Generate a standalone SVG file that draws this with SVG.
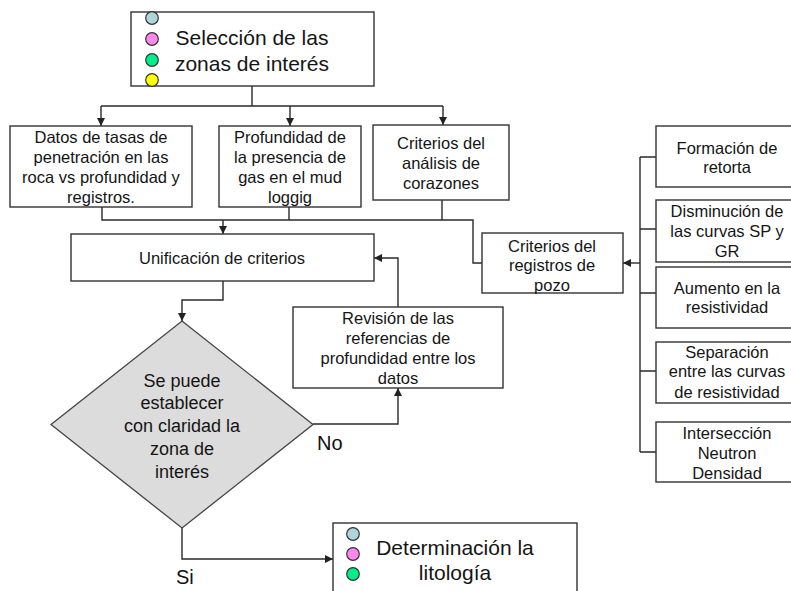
<svg xmlns="http://www.w3.org/2000/svg" width="791" height="591" viewBox="0 0 791 591">
<defs>
<marker id="arr" markerUnits="userSpaceOnUse" markerWidth="8" markerHeight="8" refX="8" refY="4" orient="auto">
<path d="M0,0 L8,4 L0,8 z" fill="#222"/>
</marker>
<style>
.box{fill:#fff;stroke:#333;stroke-width:1.4}
.dia{fill:#dcdcdc;stroke:#444;stroke-width:1.3}
.t{font-family:"Liberation Sans",Arial,sans-serif;font-size:16.5px;fill:#151515;text-anchor:middle}
.big{font-size:21px}
.mid{font-size:18px}
.lbl{font-family:"Liberation Sans",Arial,sans-serif;font-size:20px;fill:#111}
.c{fill:none;stroke:#2a2a2a;stroke-width:1.4}
.dot{stroke:#333;stroke-width:1.2}
</style>
</defs>
<rect width="791" height="591" fill="#fff"/>
<g id="connectors">
<path class="c" d="M252,86 V106"/>
<path class="c" d="M101,106 H443"/>
<path class="c" d="M101,106 V126" marker-end="url(#arr)"/>
<path class="c" d="M290,106 V126" marker-end="url(#arr)"/>
<path class="c" d="M443,106 V125" marker-end="url(#arr)"/>
<path class="c" d="M102,207 V220 H473 V263 H482"/>
<path class="c" d="M289,207 V220"/>
<path class="c" d="M442,200 V220"/>
<path class="c" d="M223,220 V234" marker-end="url(#arr)"/>
<path class="c" d="M398,307 V258 H374" marker-end="url(#arr)"/>
<path class="c" d="M223,281 V300 H182 V321" marker-end="url(#arr)"/>
<path class="c" d="M313,424 H398 V388" marker-end="url(#arr)"/>
<path class="c" d="M182,528 V559 H333" marker-end="url(#arr)"/>
<path class="c" d="M640,157 V452 M640,157 H656 M640,229 H656 M640,293 H656 M640,371 H656 M640,452 H656"/>
<path class="c" d="M640,263 H623" marker-end="url(#arr)"/>
</g>
<g id="n-seleccion">
<rect class="box" x="131" y="12" width="243" height="74"/>
<circle class="dot" cx="152" cy="18" r="6.3" fill="#add6da"/>
<circle class="dot" cx="152" cy="39" r="6.3" fill="#ff88ee"/>
<circle class="dot" cx="152" cy="60" r="6.3" fill="#00ee88"/>
<circle class="dot" cx="152" cy="80" r="6.3" fill="#ffff00"/>
<text class="t big" x="252" y="44.5">Selección de las</text>
<text class="t big" x="252" y="70.5">zonas de interés</text>
</g>
<g id="n-datos">
<rect class="box" x="10" y="126" width="182" height="81"/>
<text class="t" x="101" y="142.5">Datos de tasas de</text>
<text class="t" x="101" y="162.5">penetración en las</text>
<text class="t" x="101" y="182.5">roca vs profundidad y</text>
<text class="t" x="101" y="202.5">registros.</text>
</g>
<g id="n-profundidad">
<rect class="box" x="219" y="126" width="142" height="81"/>
<text class="t" x="290" y="142.5">Profundidad de</text>
<text class="t" x="290" y="162.5">la presencia de</text>
<text class="t" x="290" y="182.5">gas en el mud</text>
<text class="t" x="290" y="202.5">loggig</text>
</g>
<g id="n-corazones">
<rect class="box" x="373" y="125" width="136" height="75"/>
<text class="t" x="441" y="149">Criterios del</text>
<text class="t" x="441" y="169">análisis de</text>
<text class="t" x="441" y="189">corazones</text>
</g>
<g id="n-unificacion">
<rect class="box" x="71" y="234" width="303" height="47"/>
<text class="t" x="222" y="264">Unificación de criterios</text>
</g>
<g id="n-registros">
<rect class="box" x="482" y="233" width="141" height="60"/>
<text class="t" x="552" y="252">Criterios del</text>
<text class="t" x="552" y="271">registros de</text>
<text class="t" x="552" y="291">pozo</text>
</g>
<g id="n-revision">
<rect class="box" x="293" y="307" width="210" height="81"/>
<text class="t" x="398" y="324">Revisión de las</text>
<text class="t" x="398" y="344">referencias de</text>
<text class="t" x="398" y="364">profundidad entre los</text>
<text class="t" x="398" y="384">datos</text>
</g>
<g id="n-decision">
<polygon class="dia" points="182,321 313,424.5 182,528 51,424.5"/>
<text class="t mid" x="182" y="386.5">Se puede</text>
<text class="t mid" x="182" y="408.5">establecer</text>
<text class="t mid" x="182" y="432">con claridad la</text>
<text class="t mid" x="182" y="454.5">zona de</text>
<text class="t mid" x="182" y="477.5">interés</text>
</g>
<text class="lbl" x="317" y="450">No</text>
<text class="lbl" x="176" y="584">Si</text>
<g id="n-litologia">
<rect class="box" x="333" y="523" width="244" height="80"/>
<circle class="dot" cx="353" cy="534" r="6.3" fill="#add6da"/>
<circle class="dot" cx="353" cy="554" r="6.3" fill="#ff88ee"/>
<circle class="dot" cx="353" cy="574" r="6.3" fill="#00ee88"/>
<text class="t big" x="455" y="554.5">Determinación la</text>
<text class="t big" x="455" y="579.5">litología</text>
</g>
<g id="n-retorta">
<rect class="box" x="656" y="126" width="144" height="61"/>
<text class="t" x="727" y="154">Formación de</text>
<text class="t" x="727" y="173">retorta</text>
</g>
<g id="n-disminucion">
<rect class="box" x="656" y="200" width="144" height="62"/>
<text class="t" x="727" y="217">Disminución de</text>
<text class="t" x="727" y="237">las curvas SP y</text>
<text class="t" x="727" y="257">GR</text>
</g>
<g id="n-aumento">
<rect class="box" x="656" y="267" width="144" height="61"/>
<text class="t" x="727" y="294">Aumento en la</text>
<text class="t" x="727" y="313">resistividad</text>
</g>
<g id="n-separacion">
<rect class="box" x="656" y="342" width="144" height="61"/>
<text class="t" x="727" y="358">Separación</text>
<text class="t" x="727" y="377">entre las curvas</text>
<text class="t" x="727" y="398">de resistividad</text>
</g>
<g id="n-interseccion">
<rect class="box" x="656" y="422" width="144" height="60"/>
<text class="t" x="727" y="439">Intersección</text>
<text class="t" x="727" y="459">Neutron</text>
<text class="t" x="727" y="479">Densidad</text>
</g>
</svg>
